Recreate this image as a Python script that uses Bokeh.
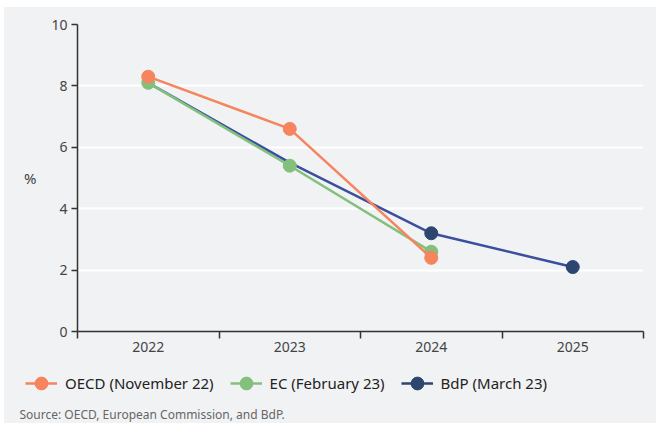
from bokeh.plotting import figure
from bokeh.layouts import column
from bokeh.models import FixedTicker, Legend, LegendItem, Range1d, Label
from bokeh.embed import file_html
from bokeh.resources import INLINE

# Inflation projections (%)
years = ["2022", "2023", "2024", "2025"]
oecd = [8.3, 6.6, 2.4]          # OECD (November 22)
ec = [8.1, 5.4, 2.6]            # EC (February 23)
bdp = [8.1, 5.5, 3.2, 2.1]      # BdP (March 23)
series_names = ["OECD (November 22)", "EC (February 23)", "BdP (March 23)"]
source_note = "Source: OECD, European Commission, and BdP."

FONT = "Noto Sans"
C_OECD = "#f5845f"
C_EC = "#84c07d"
C_BDP_LINE = "#3a4f9e"
C_BDP_DOT = "#2c4670"
BG = "#f1f2f4"
TXT = "#444444"

W = 652

# each year sits in the middle of its band on a numeric axis
xpos = [i + 0.5 for i in range(len(years))]

p = figure(width=W, height=362, output_backend="svg", toolbar_location=None,
           x_range=Range1d(0, len(years)), y_range=Range1d(0, 10),
           min_border_left=73, min_border_right=13, min_border_top=17,
           min_border_bottom=38)
p.background_fill_color = BG
p.border_fill_color = BG
p.outline_line_color = None

# BdP drawn first so the other two sit on top
p.line(xpos[:len(bdp)], bdp, line_color=C_BDP_LINE, line_width=2.5)
p.scatter(xpos[2:len(bdp)], bdp[2:], size=13, fill_color=C_BDP_DOT,
          line_color=C_BDP_DOT)
p.line(xpos[:len(ec)], ec, line_color=C_EC, line_width=2.5)
p.scatter(xpos[:len(ec)], ec, size=13, fill_color=C_EC, line_color=C_EC)
p.line(xpos[:len(oecd)], oecd, line_color=C_OECD, line_width=2.5)
p.scatter(xpos[:len(oecd)], oecd, size=13, fill_color=C_OECD, line_color=C_OECD)

# x axis: ticks at band edges, year labels at band centres
xa = p.xaxis[0]
xa.ticker = FixedTicker(ticks=xpos, minor_ticks=list(range(len(years) + 1)))
xa.major_label_overrides = {x: y for x, y in zip(xpos, years)}
xa.major_tick_out = 0
xa.major_tick_in = 0
xa.minor_tick_out = 7
xa.minor_tick_in = 0
xa.minor_tick_line_color = "#333333"
xa.minor_tick_line_width = 1.5
xa.axis_line_color = "#333333"
xa.axis_line_width = 1.5
xa.major_label_text_font = FONT
xa.major_label_text_font_size = "14px"
xa.major_label_text_color = TXT
xa.major_label_standoff = 3

ya = p.yaxis[0]
ya.ticker = FixedTicker(ticks=[0, 2, 4, 6, 8, 10])
ya.minor_tick_line_color = None
ya.major_tick_out = 6
ya.major_tick_in = 0
ya.major_tick_line_color = "#333333"
ya.major_tick_line_width = 1.5
ya.axis_line_color = "#333333"
ya.axis_line_width = 1.5
ya.major_label_text_font = FONT
ya.major_label_text_font_size = "14px"
ya.major_label_text_color = TXT
ya.major_label_standoff = 4
ya.axis_label = "%"
ya.axis_label_orientation = "horizontal"
ya.axis_label_text_font = FONT
ya.axis_label_text_font_style = "normal"
ya.axis_label_text_font_size = "15px"
ya.axis_label_text_color = TXT
ya.axis_label_standoff = 12

p.xgrid.grid_line_color = None
p.ygrid.grid_line_color = "white"
p.ygrid.grid_line_width = 2
p.ygrid.ticker = FixedTicker(ticks=[2, 4, 6, 8, 10])

# footer strip: legend and source note
foot = figure(width=W, height=54, output_backend="svg", toolbar_location=None,
              x_range=Range1d(0, W), y_range=Range1d(0, 54),
              x_axis_type=None, y_axis_type=None,
              min_border=0, min_border_left=0, min_border_right=0,
              min_border_top=0, min_border_bottom=0)
foot.frame_align = False
foot.background_fill_color = BG
foot.border_fill_color = BG
foot.outline_line_color = None

swatches = [(C_OECD, C_OECD), (C_EC, C_EC), (C_BDP_DOT, C_BDP_DOT)]
items = []
for name, (lc, dc) in zip(series_names, swatches):
    # placed off-canvas; only their legend swatches are seen
    rl = foot.line([-50, -40], [-50, -40], line_color=lc, line_width=2.5)
    rd = foot.scatter([-50], [-50], size=13, fill_color=dc, line_color=dc)
    items.append(LegendItem(label=name, renderers=[rl, rd]))

legend = Legend(items=items, orientation="horizontal", location=(21, 24),
                background_fill_alpha=0, border_line_color=None,
                label_text_font=FONT, label_text_font_size="15px",
                label_text_color="#222222", glyph_width=32, glyph_height=32,
                spacing=16, label_standoff=8, padding=0, margin=0)
foot.add_layout(legend, "center")

foot.add_layout(Label(x=15, y=1, text=source_note, text_font=FONT,
                      text_font_size="12px", text_color="#666666"))

page = column(p, foot, spacing=0, margin=(7, 0, 0, 4),
              styles={"background-color": BG})
open("out.html", "w").write(file_html(page, INLINE))
